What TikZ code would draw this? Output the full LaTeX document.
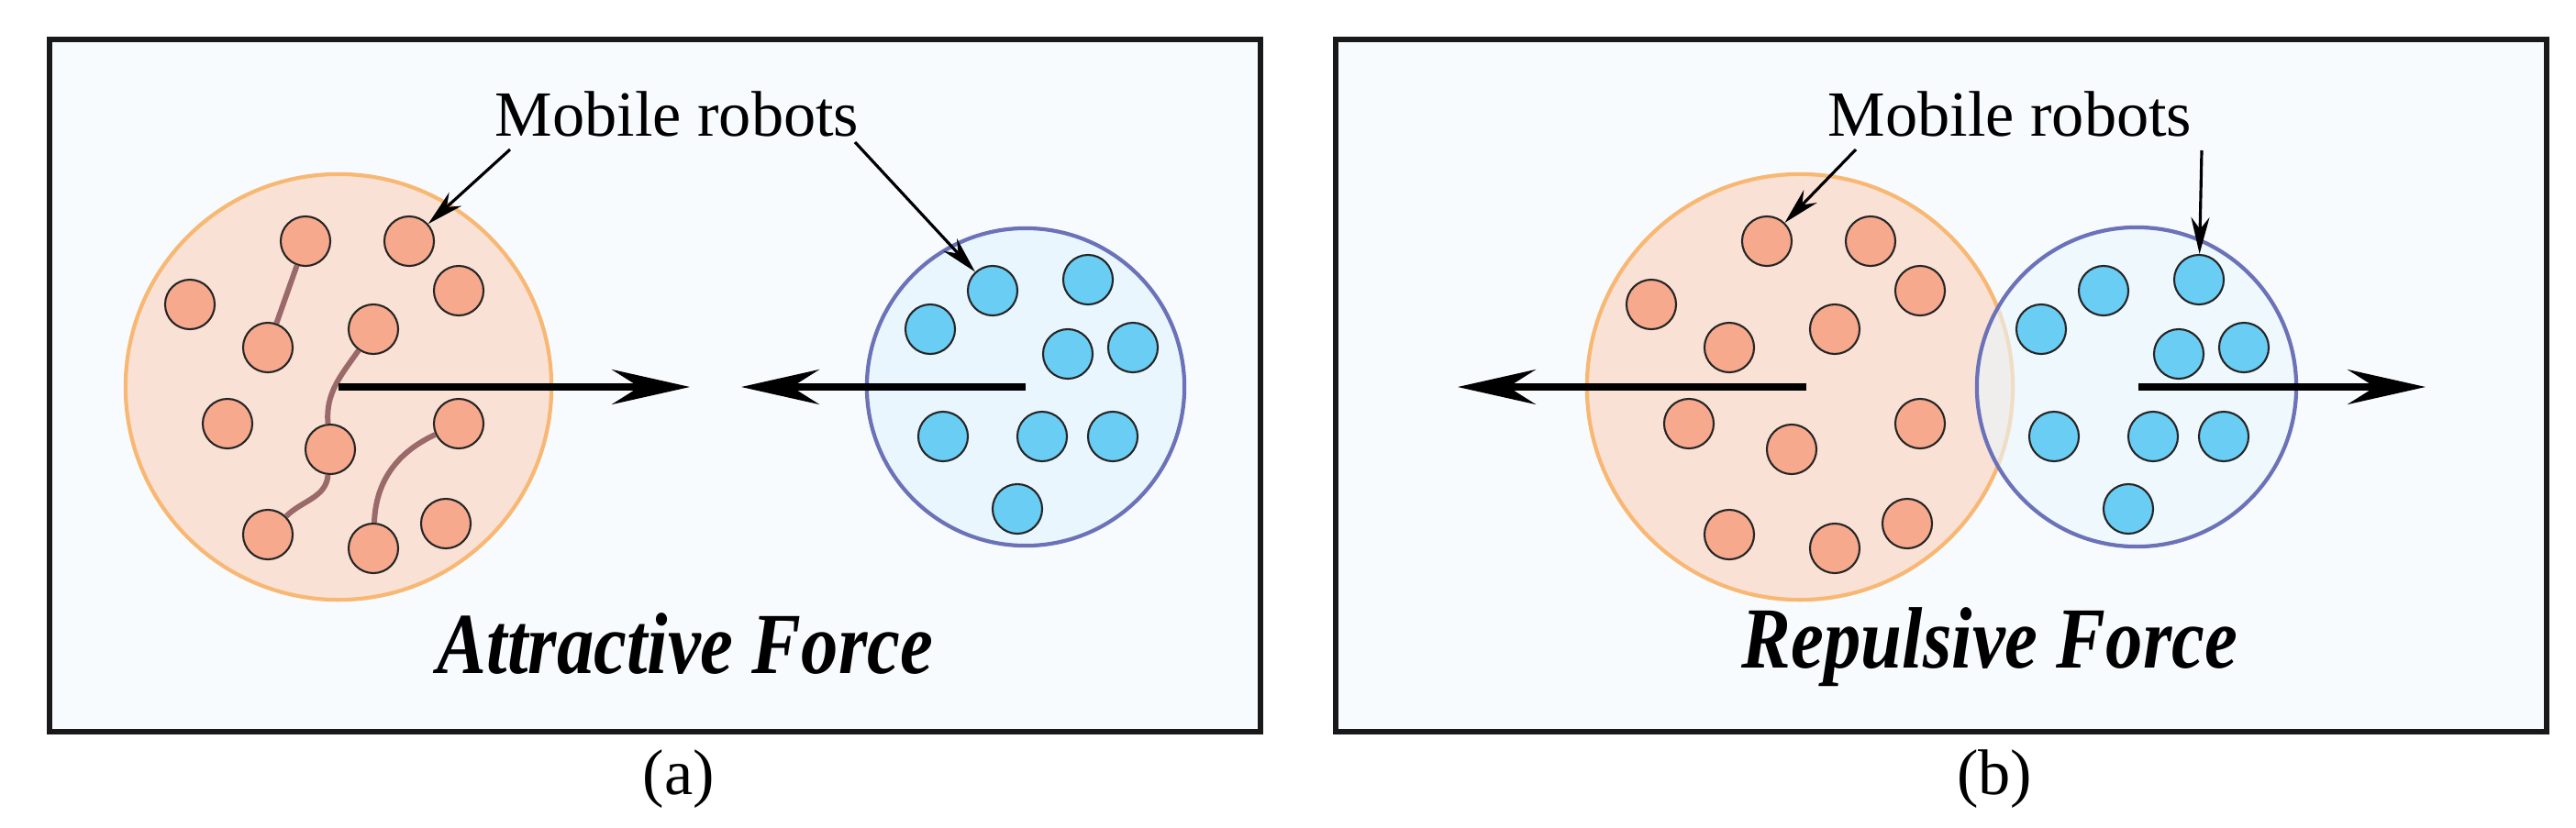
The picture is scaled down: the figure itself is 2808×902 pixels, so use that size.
\documentclass[tikz,border=0pt]{standalone}
\usepackage{fontspec}
\setmainfont{Liberation Serif}
\usetikzlibrary{arrows.meta}
\definecolor{panelbg}{HTML}{F7FBFE}
\definecolor{orgfill}{HTML}{F9E2D5}
\definecolor{orgline}{HTML}{F8B874}
\definecolor{orgbot}{HTML}{F7A98E}
\definecolor{bluefill}{HTML}{EAF6FD}
\definecolor{blueline}{HTML}{6B72B8}
\definecolor{bluebot}{HTML}{6ACDF3}
\definecolor{linkcol}{HTML}{9A6A6A}
\tikzset{%
  % Specifications for style of nodes:
         panel/.style = {draw=black!90, line width=1.7pt, fill=panelbg},
      orgswarm/.style = {draw=orgline, line width=1.2pt, fill=orgfill},
     blueswarm/.style = {draw=blueline, line width=1.2pt, fill=bluefill},
         robot/.style = {circle, draw=black!85, line width=0.6pt,
                         minimum size=0.54cm, inner sep=0pt},
        orgbot/.style = {robot, fill=orgbot},
       bluebot/.style = {robot, fill=bluebot},
          link/.style = {draw=linkcol, line width=1.7pt},
         force/.style = {line width=2pt, -{Stealth[length=0.85cm,width=0.38cm,inset=0.3cm]}},
       pointer/.style = {line width=0.9pt, -{Stealth[length=0.4cm,width=0.2cm]}},
       caption/.style = {font=\fontsize{20}{22}\selectfont},
         title/.style = {font=\fontsize{27}{30}\selectfont\bfseries\itshape, xscale=0.85},
}
\begin{document}
\begin{tikzpicture}[x=0.01cm, y=-0.01cm]
  \useasboundingbox (0,0) rectangle (2808,902);
  % Panels
  \draw[panel] (54,43) rectangle (1374,798);
  \draw[panel] (1456,43) rectangle (2776,798);

  % (a) swarms
  \draw[orgswarm] (369,422) circle (2.32cm);
  \draw[blueswarm] (1118,422) circle (1.73cm);
  % (b) swarms
  \draw[orgswarm] (1962,422) circle (2.32cm);
  \draw[blueswarm, fill opacity=0.6] (2329,422) circle (1.74cm);

  % Robots
  \foreach \s/\p in {0/a,1593/b}{
    \foreach \x/\y [count=\i] in {333/263,446/263,207/332,500/317,292/379,407/359,
                                  248/462,360/490,500/462,292/583,407/598,486/571}
      \node (o\p\i) [orgbot] at (\x+\s,\y) {};
  }
  \foreach \s/\p in {0/a,1211/b}{
    \foreach \x/\y [count=\i] in {1082/317,1186/305,1014/359,1164/386,1235/379,
                                  1028/476,1136/476,1213/476,1109/555}
      \node (b\p\i) [bluebot] at (\x+\s,\y) {};
  }

  % Links in (a)
  \draw[link] (oa1) -- (oa5);
  \draw[link] (oa6) to[out=235,in=95] (oa8);
  \draw[link] (oa8) to[out=-95,in=45] (oa10);
  \draw[link] (oa9) to[out=205,in=88] (oa11);

  % Forces
  \coordinate (fa1) at (369,422);  \coordinate (fa2) at (752,422);
  \coordinate (fa3) at (1118,422); \coordinate (fa4) at (808,422);
  \coordinate (fb1) at (1969,422); \coordinate (fb2) at (1589,422);
  \coordinate (fb3) at (2331,422); \coordinate (fb4) at (2644,422);
  \draw[force] (fa1) -- (fa2);
  \draw[force] (fa3) -- (fa4);
  \draw[force] (fb1) -- (fb2);
  \draw[force] (fb3) -- (fb4);

  % Labels
  \node (mra) [caption] at (738,124) {Mobile robots};
  \node (mrb) [caption] at (2191,124) {Mobile robots};
  \draw[pointer] (556,163) -- (oa2);
  \draw[pointer] (932,155) -- (ba1);
  \draw[pointer] (2023,163) -- (ob1);
  \draw[pointer] (2400,164) -- (bb2);

  \node (tta) [title] at (747,702) {Attractive Force};
  \node (ttb) [title] at (2169,706) {Repulsive Force};
  \node (capa) [caption] at (740,850) {(a)};
  \node (capb) [caption] at (2174,850) {(b)};
\end{tikzpicture}
\end{document}
